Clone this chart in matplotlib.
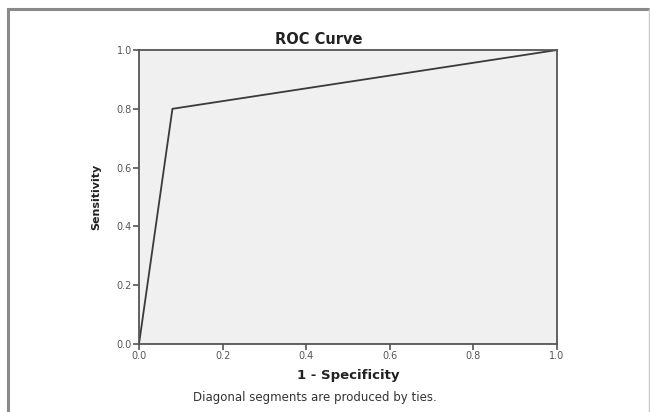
import matplotlib.pyplot as plt
from matplotlib.lines import Line2D

plt.rcParams['font.family'] = ['DejaVu Sans']

# ROC points
fpr = [0.0, 0.08, 1.0]
tpr = [0.0, 0.8, 1.0]
ticks = [0.0, 0.2, 0.4, 0.6, 0.8, 1.0]
tick_labels = ['0.0', '0.2', '0.4', '0.6', '0.8', '1.0']

fig = plt.figure(figsize=(6.5, 4.12), dpi=100)
W, H = 650, 412

# outer frame like the SPSS viewer box
fig.add_artist(Line2D([8 / W, 1], [1 - 9 / H, 1 - 9 / H], color='#8a8a8a', lw=2.2))
fig.add_artist(Line2D([8 / W, 8 / W], [0, 1 - 9 / H], color='#8a8a8a', lw=2.2))
fig.add_artist(Line2D([649 / W, 649 / W], [0, 1 - 9 / H], color='#c8c8c8', lw=1))

ax = fig.add_axes([139 / W, 1 - 344 / H, 418 / W, 294 / H])
ax.set_facecolor('#f0f0f0')
ax.plot(fpr, tpr, color='#3a3a3a', lw=1.3)
ax.set_xlim(0, 1)
ax.set_ylim(0, 1)
ax.set_xticks(ticks)
ax.set_xticklabels(tick_labels)
ax.set_yticks(ticks)
ax.set_yticklabels(tick_labels)
for s in ax.spines.values():
    s.set_color('#555555')
    s.set_linewidth(1.3)
ax.tick_params(direction='out', length=4, width=1.2, color='#555555',
               labelsize=7, labelcolor='#555555', pad=1)

ax.set_xlabel('1 - Specificity', fontsize=9.5, fontweight='bold', labelpad=6,
              color='#222222')
ax.set_ylabel('Sensitivity', fontsize=8, fontweight='bold', labelpad=11,
              color='#222222')

fig.text(319 / W, 1 - 40 / H, 'ROC Curve', ha='center', va='center',
         fontsize=10.5, fontweight='bold', color='#222222')
fig.text(315 / W, 1 - 397 / H, 'Diagonal segments are produced by ties.',
         ha='center', va='center', fontsize=8.5, color='#333333')

fig.savefig('out.png', dpi=100)
